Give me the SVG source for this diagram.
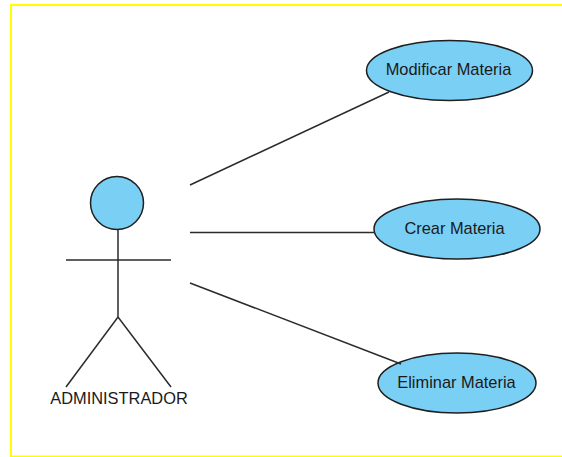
<svg xmlns="http://www.w3.org/2000/svg" width="562" height="457" viewBox="0 0 562 457">
<style>
.s{stroke:#2b2b2b;stroke-width:1.5;fill:none}
.f{fill:#7acff5;stroke:#1f1f1f;stroke-width:1.5}
text{font-family:"Liberation Sans",Arial,sans-serif;font-size:16.400px;fill:#1a1a1a;text-anchor:middle}
</style>
<rect width="562" height="457" fill="#fff"/>
<path d="M11 457V5H562M11 456.500H562" fill="none" stroke="#ffff00" stroke-width="2"/>
<g id="actor">
<circle class="f" cx="117" cy="203" r="26.500"/>
<path class="s" d="M118 230V317M66 260H171M66 387L118 317L171 387"/>
<text x="119" y="404">ADMINISTRADOR</text>
</g>
<g id="uc-modificar">
<ellipse class="f" cx="449.500" cy="70.500" rx="83" ry="30"/>
<text x="448.500" y="75">Modificar Materia</text>
</g>
<g id="uc-crear">
<ellipse class="f" cx="457" cy="229" rx="83" ry="30"/>
<text x="454.500" y="233.500">Crear Materia</text>
</g>
<g id="uc-eliminar">
<ellipse class="f" cx="457" cy="383" rx="79" ry="30"/>
<text x="456.500" y="388">Eliminar Materia</text>
</g>
<g id="connectors">
<line class="s" x1="190" y1="185" x2="389" y2="92"/>
<line class="s" x1="190" y1="232.500" x2="375" y2="232.500"/>
<line class="s" x1="190" y1="283" x2="401" y2="364"/>
</g>
</svg>
